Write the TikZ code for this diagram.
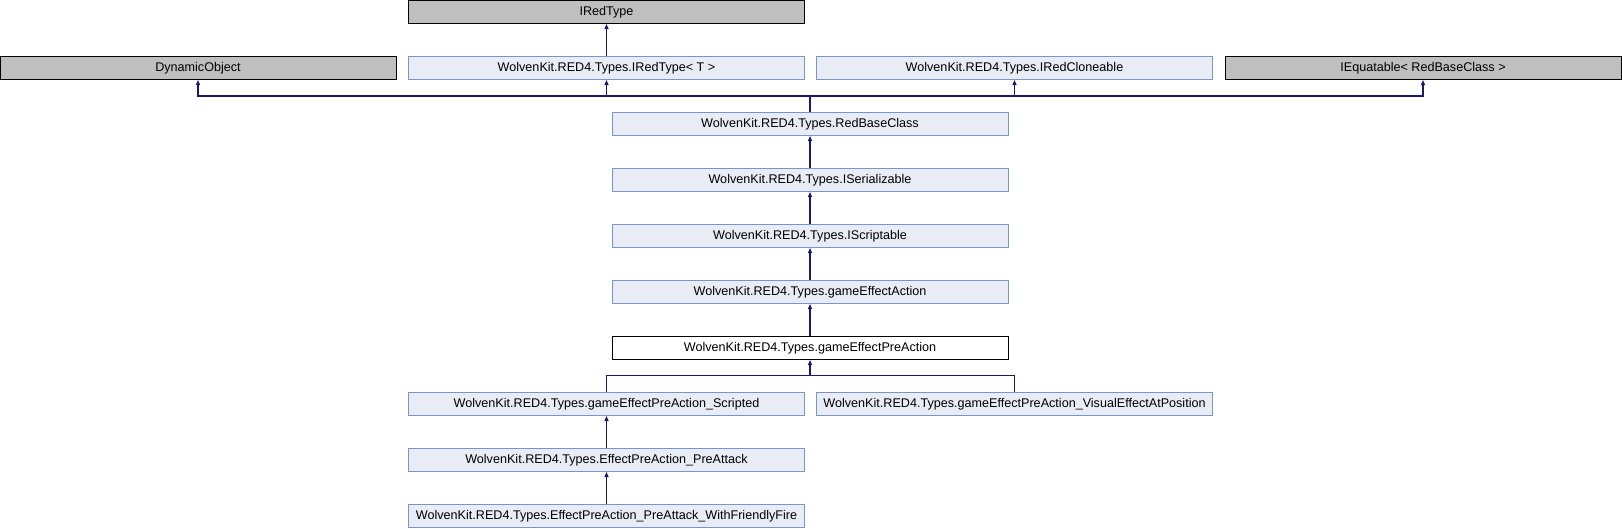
\documentclass[tikz,border=0pt]{standalone}
\usepackage{fontspec}
\setmainfont{Liberation Sans}
\usetikzlibrary{arrows.meta}
\definecolor{clsfill}{HTML}{E8ECF5}
\definecolor{clsdraw}{HTML}{7B93CD}
\definecolor{extfill}{HTML}{BFBFBF}
\definecolor{edgecol}{HTML}{191970}
\begin{document}
\begin{tikzpicture}[x=1pt,y=-1pt,
  box/.style={rectangle, minimum width=396pt, minimum height=23pt, inner sep=0pt, line width=1pt, font=\fontsize{12.6}{14}\selectfont},
  cls/.style={box, fill=clsfill, draw=clsdraw},
  ext/.style={box, fill=extfill, draw=black},
  cur/.style={box, fill=white, draw=black},
  arr/.style={draw=edgecol, line width=1.1pt, -{Triangle[length=5pt,width=4pt]}},
  ln/.style={draw=edgecol, line width=1.1pt}]
\useasboundingbox (0,0) rectangle (1622,528);
% row centres: 12 + 56k
\node[ext] (iredtype) at (606.5,12) {IRedType};
\node[ext] (dyn) at (198,68) {DynamicObject};
\node[cls] (iredtypeT) at (606.5,68) {WolvenKit.RED4.Types.IRedType< T >};
\node[cls] (clone) at (1014.5,68) {WolvenKit.RED4.Types.IRedCloneable};
\node[ext] (iequ) at (1423,68) {IEquatable< RedBaseClass >};
\node[cls] (redbase) at (810,124) {WolvenKit.RED4.Types.RedBaseClass};
\node[cls] (iser) at (810,180) {WolvenKit.RED4.Types.ISerializable};
\node[cls] (iscr) at (810,236) {WolvenKit.RED4.Types.IScriptable};
\node[cls] (gea) at (810,292) {WolvenKit.RED4.Types.gameEffectAction};
\node[cur] (gepa) at (810,348) {WolvenKit.RED4.Types.gameEffectPreAction};
\node[cls] (scr) at (606.5,404) {WolvenKit.RED4.Types.gameEffectPreAction\_Scripted};
\node[cls] (vis) at (1014.5,404) {WolvenKit.RED4.Types.gameEffectPreAction\_VisualEffectAtPosition};
\node[cls] (pre) at (606.5,460) {WolvenKit.RED4.Types.EffectPreAction\_PreAttack};
\node[cls] (ff) at (606.5,516) {WolvenKit.RED4.Types.EffectPreAction\_PreAttack\_WithFriendlyFire};
% edges
\coordinate (j1) at (810,96);
\coordinate (j2) at (810,375.5);
\draw[arr] (iredtypeT.north) -- (iredtype.south);
\draw[ln] (redbase.north) -- (j1);
\draw[arr] (j1) -| (dyn.south);
\draw[arr] (j1) -| (iredtypeT.south);
\draw[arr] (j1) -| (clone.south);
\draw[arr] (j1) -| (iequ.south);
\draw[arr] (iser.north) -- (redbase.south);
\draw[arr] (iscr.north) -- (iser.south);
\draw[arr] (gea.north) -- (iscr.south);
\draw[arr] (gepa.north) -- (gea.south);
\draw[arr] (j2) -- (gepa.south);
\draw[ln] (scr.north) |- (j2);
\draw[ln] (vis.north) |- (j2);
\draw[arr] (pre.north) -- (scr.south);
\draw[arr] (ff.north) -- (pre.south);
\end{tikzpicture}
\end{document}
